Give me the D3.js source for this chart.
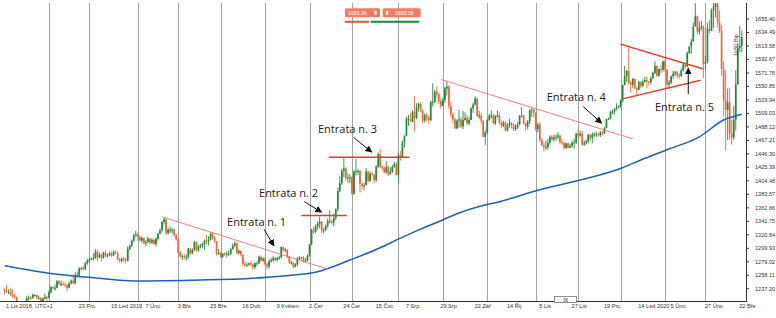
<!DOCTYPE html>
<html>
<head>
<meta charset="utf-8">
<script src="https://cdn.jsdelivr.net/npm/d3@7/dist/d3.min.js"></script>
<style>
  body { margin: 0; background: #fff; }
  svg { display: block; font-family: "Liberation Sans", Arial, sans-serif; }
  .note { font-family: "Open Sans", "Noto Sans", sans-serif; font-size: 11px; fill: #1a1a1a; }
  .tick text { font-size: 5.6px; fill: #333; }
</style>
</head>
<body>
<div id="chart"></div>
<script>
////////// Data (XAUUSD daily, 1 Nov 2018 - 26 Mar 2020) //////////

var firstOpen = 1236

var closes = [
  // nov 2018
  1233,1232,1232,1227,1226,1224,1209,1201,1202,1211,1214,1222,1223,1222,1227,1227,1222,1222,1214,1221,1224,1222,
  // dec
  1231,1239,1238,1238,1248,1244,1244,1243,1242,1238,1245,1249,1245,1257,1257,1268,1268,1267,1276,1280,1282,
  // jan 2019
  1283,1284,1294,1285,1289,1284,1292,1287,1288,1291,1288,1294,1292,1282,1280,1283,1282,1280,1298,1303,1311,1319,1321,
  // feb
  1317,1311,1315,1307,1309,1314,1308,1312,1306,1314,1322,1327,1340,1344,1323,1328,1328,1328,1320,1313,
  // mar
  1293,1287,1287,1286,1286,1299,1291,1297,1309,1296,1302,1303,1306,1311,1310,1312,1322,1315,1310,1291,1292,
  // apr
  1286,1291,1290,1291,1291,1298,1303,1307,1292,1295,1289,1275,1273,1274,1276,1274,1270,1276,1276,1286,1280,1283,
  // may
  1274,1271,1279,1281,1284,1281,1284,1285,1301,1296,1297,1286,1277,1277,1270,1274,1283,1284,1285,1279,1280,1288,1305,
  // jun
  1328,1325,1333,1337,1341,1327,1327,1334,1341,1341,1339,1346,1360,1388,1400,1419,1423,1408,1409,1409,
  // jul
  1384,1418,1419,1419,1399,1396,1397,1418,1404,1415,1413,1405,1426,1445,1426,1424,1417,1425,1414,1418,1426,1430,1413,
  // aug
  1444,1440,1464,1474,1500,1500,1496,1511,1501,1517,1523,1513,1497,1506,1502,1498,1526,1526,1542,1538,1527,1520,
  // sep
  1529,1547,1550,1520,1507,1499,1485,1497,1499,1488,1498,1501,1493,1498,1516,1522,1531,1504,1505,1497,1472,
  // oct
  1479,1498,1505,1505,1493,1504,1505,1494,1489,1494,1482,1490,1493,1490,1484,1487,1491,1504,1505,1493,1488,1496,1513,
  // nov
  1514,1509,1484,1491,1467,1459,1456,1456,1463,1472,1468,1471,1472,1474,1464,1462,1455,1462,1455,1458,1463,
  // dec
  1463,1477,1474,1477,1460,1462,1465,1475,1470,1476,1476,1476,1475,1479,1478,1486,1499,1500,1511,1511,1515,1517,
  // jan 2020
  1519,1528,1552,1566,1574,1556,1553,1562,1548,1545,1557,1551,1557,1560,1558,1557,1563,1571,1582,1567,1577,1576,1589,
  // feb
  1576,1553,1556,1566,1570,1572,1568,1566,1575,1584,1581,1602,1612,1620,1643,1659,1635,1641,1643,1585,
  // mar
  1588,1640,1636,1668,1673,1679,1649,1636,1577,1529,1514,1525,1477,1471,1498,1553,1609,1613,1627
]

var highs = [
  1237,1243,1236,1237,1236,1229,1224,1211,1204,1213,1217,1225,1226,1225,1229,1228,1227,1226,1224,1223,1229,1226,
  1234,1241,1240,1243,1250,1250,1249,1248,1246,1244,1247,1251,1259,1262,1263,1270,1270,1272,1278,1283,1285,
  1285,1291,1298,1298,1293,1291,1294,1296,1291,1294,1294,1296,1296,1294,1284,1285,1286,1285,1302,1305,1313,1322,1326,
  1324,1318,1318,1316,1312,1317,1316,1315,1314,1316,1323,1330,1342,1347,1345,1331,1333,1331,1330,1322,
  1316,1295,1290,1290,1290,1300,1299,1299,1311,1310,1305,1306,1308,1313,1320,1318,1324,1324,1318,1310,1298,
  1294,1292,1293,1294,1296,1300,1307,1310,1309,1298,1296,1290,1279,1277,1277,1280,1276,1277,1279,1288,1288,1286,
  1286,1277,1282,1284,1287,1286,1286,1288,1302,1302,1300,1298,1287,1280,1278,1276,1286,1287,1286,1287,1284,1290,1306,
  1329,1333,1336,1341,1348,1340,1331,1336,1345,1358,1344,1353,1361,1393,1411,1422,1439,1425,1415,1414,
  1411,1421,1438,1422,1421,1401,1401,1424,1420,1418,1418,1415,1428,1448,1453,1428,1426,1434,1428,1425,1428,1433,1433,
  1447,1450,1466,1474,1503,1506,1509,1513,1535,1524,1525,1526,1514,1508,1509,1505,1528,1555,1545,1550,1541,1531,
  1532,1550,1557,1552,1527,1510,1501,1499,1514,1503,1512,1510,1506,1503,1518,1525,1535,1533,1512,1509,1498,
  1482,1500,1508,1513,1508,1506,1513,1510,1497,1497,1497,1493,1500,1495,1493,1491,1495,1506,1518,1507,1494,1498,1515,
  1517,1516,1511,1494,1495,1470,1463,1466,1469,1474,1475,1475,1476,1479,1475,1468,1464,1463,1463,1461,1466,
  1469,1478,1483,1481,1481,1466,1468,1477,1476,1479,1479,1480,1478,1481,1481,1487,1500,1502,1512,1514,1517,1524,
  1521,1530,1553,1582,1576,1611,1559,1563,1562,1549,1559,1558,1561,1565,1566,1559,1566,1573,1589,1583,1578,1584,1590,
  1592,1577,1560,1567,1574,1575,1574,1571,1578,1585,1586,1604,1612,1624,1649,1689,1660,1651,1652,1645,
  1597,1649,1653,1671,1692,1703,1677,1668,1645,1590,1575,1547,1548,1499,1520,1575,1617,1644,1637
]

var lows = [
  1228,1230,1228,1226,1222,1221,1206,1199,1196,1200,1207,1213,1218,1219,1221,1224,1221,1220,1212,1210,1220,1218,
  1222,1229,1234,1233,1237,1242,1240,1241,1239,1233,1237,1243,1244,1243,1254,1255,1266,1265,1265,1274,1277,
  1281,1280,1283,1279,1284,1279,1283,1286,1285,1288,1286,1287,1290,1280,1277,1277,1278,1276,1279,1296,1301,1309,1317,
  1311,1310,1308,1305,1302,1307,1305,1306,1304,1302,1311,1321,1325,1336,1320,1320,1323,1322,1317,1311,
  1291,1284,1281,1282,1280,1283,1289,1290,1295,1294,1294,1299,1300,1297,1305,1304,1311,1313,1308,1288,1289,
  1285,1284,1287,1285,1287,1289,1297,1301,1290,1289,1287,1272,1270,1270,1272,1271,1266,1267,1272,1275,1279,1278,
  1273,1267,1268,1277,1278,1279,1279,1281,1284,1294,1293,1284,1275,1274,1269,1270,1272,1280,1282,1277,1277,1279,1286,
  1304,1321,1323,1328,1330,1323,1322,1326,1331,1338,1336,1333,1343,1356,1386,1397,1409,1404,1401,1400,
  1382,1382,1412,1413,1386,1391,1389,1397,1401,1402,1410,1400,1402,1424,1423,1420,1415,1415,1411,1413,1416,1424,1412,
  1400,1435,1440,1455,1473,1489,1495,1494,1480,1499,1511,1510,1493,1494,1496,1492,1496,1519,1525,1533,1523,1516,
  1519,1525,1536,1515,1502,1493,1484,1484,1486,1485,1484,1497,1490,1490,1498,1509,1520,1503,1500,1492,1471,
  1459,1476,1497,1500,1491,1490,1502,1491,1485,1487,1480,1480,1486,1485,1481,1481,1484,1490,1502,1491,1482,1484,1492,
  1503,1502,1481,1479,1464,1457,1449,1452,1452,1460,1466,1465,1466,1468,1461,1459,1452,1453,1454,1455,1455,
  1454,1461,1469,1472,1458,1458,1460,1462,1466,1462,1472,1472,1472,1472,1474,1476,1485,1498,1499,1507,1507,1513,
  1516,1517,1525,1552,1557,1553,1541,1548,1546,1536,1544,1547,1549,1556,1547,1551,1553,1561,1569,1565,1565,1570,1573,
  1573,1548,1547,1553,1562,1566,1563,1562,1565,1573,1578,1580,1600,1601,1619,1645,1631,1630,1637,1563,
  1577,1586,1632,1636,1641,1657,1642,1633,1567,1504,1451,1467,1468,1460,1467,1482,1554,1603,1603
]

// 200 period moving average, read at a few bars
var maIdx = [0, 22, 47, 64, 97, 121, 138, 155, 171, 186, 196, 206, 216, 225, 235, 245, 265, 285, 305, 315, 328, 344, 356, 365]
var maVal = [1272, 1260.5, 1252.7, 1248.5, 1250, 1252.5, 1256.3, 1263, 1281, 1300, 1315, 1329, 1342, 1354, 1364, 1371.5, 1390, 1405, 1423, 1436, 1452, 1472, 1498, 1507]

// period separators (bar index of month start)
var gridIdx = [22, 42, 66, 86, 107, 129, 151, 172, 195, 217, 239, 263, 284, 305, 327, 347]

var dateLabels = ["1 Lis 2018, UTC+1", "23 Pro", "15 Led 2019", "7 Úno", "3 Bře", "25 Bře", "16 Dub", "9 Květen",
  "2 Čer", "24 Čer", "15 Čvc", "7 Srp", "29 Srp", "22 Zář", "14 Říj", "5 Lis", "27 Lis", "19 Pro",
  "14 Led 2020", "5 Úno", "27 Úno", "22 Bře"]
var dateIdx = [0, 36, 52, 69, 85, 101, 117, 134, 150, 167, 183, 198, 215, 232, 248, 264, 280, 296, 313, 329, 346, 363]

var priceTicks = [1655.40, 1634.49, 1613.58, 1592.67, 1571.76, 1550.85, 1529.94, 1509.03, 1488.12, 1467.21, 1446.30,
  1425.39, 1404.48, 1383.57, 1362.66, 1341.75, 1320.84, 1299.93, 1279.02, 1258.11, 1237.20]

// trendlines [idx1, price1, idx2, price2]
var thinLines = [[78, 1348, 160, 1267], [216, 1561, 311, 1469]]
var thickLines = [[147, 1350, 169.5, 1350], [160.5, 1440.5, 200.5, 1440.5], [305, 1615.7, 345.6, 1577.4], [306, 1530.8, 344.6, 1559.8]]

var notes = ["Entrata n. 1", "Entrata n. 2", "Entrata n. 3", "Entrata n. 4", "Entrata n. 5"]
var noteAt = [[110.2, 1340.5], [126, 1385.5], [155.2, 1483.8], [268.4, 1534.4], [322, 1518.9]]
var arrows = [[128.5, 1328.7, 133.4, 1302.8], [148.4, 1371.5, 157, 1355.1], [172.7, 1471.4, 181.8, 1448.2],
  [286.5, 1518.9, 295.6, 1493.1], [338.5, 1538.1, 338.5, 1578.4]]

////////// Chart //////////

var W = 776, H = 318
var plot = { left: 0, top: 3, right: 746, bottom: 301 }
var upColor = "#1f8b3b", downColor = "#f0653c"

var x = d3.scaleLinear().domain([0, closes.length - 1]).range([4.5, 741.8])
var y = d3.scaleLinear().domain([1237.20, 1655.40]).range([288.3, 18.5])

var svg = d3.select("#chart").append("svg").attr("width", W).attr("height", H)

var defs = svg.append("defs")
defs.append("clipPath").attr("id", "plot")
  .append("rect").attr("x", plot.left).attr("y", plot.top)
  .attr("width", plot.right - plot.left).attr("height", plot.bottom - plot.top)
defs.append("marker").attr("id", "head")
  .attr("viewBox", "0 0 10 10").attr("refX", 9).attr("refY", 5)
  .attr("markerWidth", 7).attr("markerHeight", 7).attr("markerUnits", "userSpaceOnUse")
  .attr("orient", "auto")
  .append("path").attr("d", "M0,0 L10,5 L0,10 z").attr("fill", "#111")

// period separators
svg.append("g").selectAll("line")
  .data(gridIdx)
  .enter().append("line")
  .attr("x1", function(d) { return Math.round(x(d)) + 0.5 })
  .attr("x2", function(d) { return Math.round(x(d)) + 0.5 })
  .attr("y1", plot.top).attr("y2", plot.bottom)
  .attr("stroke", "#a3a3a3").attr("stroke-width", 1)

var g = svg.append("g").attr("clip-path", "url(#plot)")

var bars = closes.map(function(c, i) {
  return { i: i, o: i ? closes[i - 1] : firstOpen, c: c, h: highs[i], l: lows[i] }
})

// wicks
g.selectAll(".wick")
  .data(bars)
  .enter().append("line")
  .attr("class", "wick")
  .attr("x1", function(d) { return x(d.i) }).attr("x2", function(d) { return x(d.i) })
  .attr("y1", function(d) { return y(Math.max(d.h, d.o, d.c)) })
  .attr("y2", function(d) { return y(Math.min(d.l, d.o, d.c)) })
  .attr("stroke", function(d) { return d.c >= d.o ? upColor : downColor })
  .attr("stroke-width", 0.9)

// bodies
g.selectAll(".body")
  .data(bars)
  .enter().append("rect")
  .attr("class", "body")
  .attr("x", function(d) { return x(d.i) - 0.85 })
  .attr("width", 1.7)
  .attr("y", function(d) { return y(Math.max(d.o, d.c)) })
  .attr("height", function(d) { return Math.max(1, Math.abs(y(d.o) - y(d.c))) })
  .attr("fill", function(d) { return d.c >= d.o ? upColor : downColor })

// moving average
var ma = maIdx.map(function(d, i) { return [d, maVal[i]] })
g.append("path")
  .datum(ma)
  .attr("fill", "none")
  .attr("stroke", "#1d62ad")
  .attr("stroke-width", 1.5)
  .attr("d", d3.line()
    .x(function(d) { return x(d[0]) })
    .y(function(d) { return y(d[1]) })
    .curve(d3.curveMonotoneX))

// trendlines
g.selectAll(".thin")
  .data(thinLines)
  .enter().append("line")
  .attr("x1", function(d) { return x(d[0]) }).attr("y1", function(d) { return y(d[1]) })
  .attr("x2", function(d) { return x(d[2]) }).attr("y2", function(d) { return y(d[3]) })
  .attr("stroke", "#ef6f6f").attr("stroke-width", 0.9)

g.selectAll(".thick")
  .data(thickLines)
  .enter().append("line")
  .attr("x1", function(d) { return x(d[0]) }).attr("y1", function(d) { return y(d[1]) })
  .attr("x2", function(d) { return x(d[2]) }).attr("y2", function(d) { return y(d[3]) })
  .attr("stroke", "#e8392c").attr("stroke-width", 1.5)

// arrows and notes
svg.selectAll(".arrow")
  .data(arrows)
  .enter().append("line")
  .attr("x1", function(d) { return x(d[0]) }).attr("y1", function(d) { return y(d[1]) })
  .attr("x2", function(d) { return x(d[2]) }).attr("y2", function(d) { return y(d[3]) })
  .attr("stroke", "#111").attr("stroke-width", 1)
  .attr("marker-end", "url(#head)")

svg.selectAll(".note")
  .data(notes)
  .enter().append("text")
  .attr("class", "note")
  .attr("x", function(d, i) { return x(noteAt[i][0]) })
  .attr("y", function(d, i) { return y(noteAt[i][1]) })
  .attr("dy", "0.36em")
  .text(function(d) { return d })

// price axis
var yAxis = svg.append("g")
  .attr("transform", "translate(" + plot.right + ",0)")
  .call(d3.axisRight(y).tickValues(priceTicks).tickSize(3).tickPadding(6).tickFormat(d3.format(".2f")))
yAxis.select(".domain").remove()
yAxis.selectAll(".tick line").attr("stroke", "#333")

svg.append("line")
  .attr("x1", plot.right + 0.5).attr("x2", plot.right + 0.5)
  .attr("y1", plot.top).attr("y2", plot.bottom)
  .attr("stroke", "#333")
svg.append("line")
  .attr("x1", 0).attr("x2", plot.right + 1)
  .attr("y1", plot.bottom + 0.5).attr("y2", plot.bottom + 0.5)
  .attr("stroke", "#333")

// time labels
svg.append("g").selectAll("text")
  .data(dateLabels)
  .enter().append("text")
  .attr("x", function(d, i) { return x(dateIdx[i]) + 1.5 })
  .attr("y", 307.6)
  .style("font-size", "5.6px").style("fill", "#333")
  .text(function(d) { return d })

// scroll box
svg.append("rect").attr("x", 554.5).attr("y", 296.5).attr("width", 22).attr("height", 6)
  .attr("fill", "#fff").attr("stroke", "#777").attr("stroke-width", 0.8)
svg.append("text").attr("x", 565.5).attr("y", 301.6).attr("text-anchor", "middle")
  .style("font-size", "4.6px").style("fill", "#333").text("36")

// vertical label near last bars
svg.append("text")
  .attr("transform", "translate(737.5,45) rotate(-90)")
  .attr("text-anchor", "middle")
  .style("font-size", "5.6px").style("fill", "#333")
  .text("1650 Bip")

// one click trading panel
var panel = svg.append("g")
panel.append("rect").attr("x", 345).attr("y", 8.3).attr("width", 35).attr("height", 9).attr("rx", 1.5).attr("fill", "#f07d62")
panel.append("rect").attr("x", 382.7).attr("y", 8.3).attr("width", 38).attr("height", 9).attr("rx", 1.5).attr("fill", "#f07d62")
panel.append("text").attr("x", 348).attr("y", 14.6).style("font-size", "5.2px").style("fill", "#fff").text("1665.34")
panel.append("text").attr("x", 395).attr("y", 14.6).style("font-size", "5.2px").style("fill", "#fff").text("1665.58")
panel.append("rect").attr("x", 374.5).attr("y", 10.8).attr("width", 2.2).attr("height", 4).attr("fill", "#fff")
panel.append("rect").attr("x", 386).attr("y", 10.8).attr("width", 2.2).attr("height", 4).attr("fill", "#fff")
panel.append("line").attr("x1", 345).attr("x2", 369.3).attr("y1", 21.8).attr("y2", 21.8).attr("stroke", "#e2553a").attr("stroke-width", 2)
panel.append("line").attr("x1", 370.7).attr("x2", 419.3).attr("y1", 21.8).attr("y2", 21.8).attr("stroke", "#16873b").attr("stroke-width", 2)
</script>
</body>
</html>
